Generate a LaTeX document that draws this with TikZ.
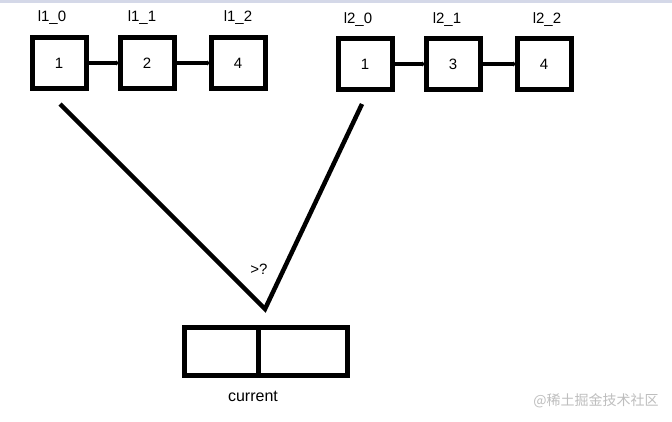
\documentclass[tikz,border=0pt]{standalone}
\usepackage{fontspec}
\setmainfont{Liberation Sans}
\newfontfamily\cjkfont{Noto Sans CJK SC}
\usetikzlibrary{arrows.meta}
\definecolor{topbar}{RGB}{212,216,232}
\definecolor{wmark}{RGB}{190,190,190}
\tikzset{
  txt/.style={font=\fontsize{15}{18}\selectfont, inner sep=0pt},
  box/.style={draw, line width=5pt, minimum width=54pt, minimum height=51pt, inner sep=0pt, font=\fontsize{15}{18}\selectfont},
  link/.style={line width=4pt, -{Circle[length=4pt]}, shorten >=-1pt},
  rope/.style={line width=4.5pt}
}
\begin{document}
\begin{tikzpicture}[x=1pt, y=-1pt]
\useasboundingbox (0,0) rectangle (672,421);
\fill[white] (0,0) rectangle (672,421);
\fill[topbar] (0,0) rectangle (672,3);

% first list
\node[box] (l10) at (59,63) {1};
\node[box] (l11) at (147,63) {2};
\node[box] (l12) at (238,63) {4};
\node[txt] at (52,18) {l1\_0};
\node[txt] at (142,18) {l1\_1};
\node[txt] at (238,18) {l1\_2};
\draw[link] (l10) -- (l11.west);
\draw[link] (l11) -- (l12.west);

% second list
\node[box] (l20) at (365,64) {1};
\node[box] (l21) at (453,64) {3};
\node[box] (l22) at (544,64) {4};
\node[txt] at (358,20) {l2\_0};
\node[txt] at (447,20) {l2\_1};
\node[txt] at (547,20) {l2\_2};
\draw[link] (l20) -- (l21.west);
\draw[link] (l21) -- (l22.west);

% compare the heads
\coordinate (a1) at (60,104);
\coordinate (a2) at (362,104);
\coordinate (tip) at (265,309);
\draw[rope, line join=miter] (a1) -- (tip) -- (a2);
\node[txt] at (259,269) {>?};

% current
\node[box, minimum width=74pt, minimum height=48pt] (cur0) at (221,351) {};
\node[box, minimum width=89pt, minimum height=48pt] (cur1) at (302.5,351) {};
\node[txt, font=\fontsize{16}{18}\selectfont] at (253,396) {current};

\node[font=\cjkfont\fontsize{14}{16}\selectfont, text=wmark, inner sep=0pt] at (596,401) {@稀土掘金技术社区};
\end{tikzpicture}
\end{document}
